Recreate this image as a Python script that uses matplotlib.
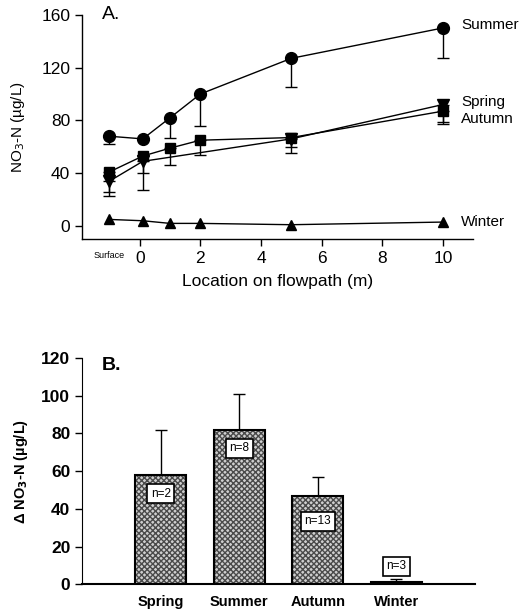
import matplotlib
matplotlib.use("Agg")
import matplotlib.pyplot as plt
import numpy as np

plt.rcParams['font.family'] = ['Liberation Sans', 'DejaVu Sans']

# ---- Panel A data ----
summer_x = [-1, 0.1, 1, 2, 5, 10]
summer_y = [68, 66, 82, 100, 127, 150]
summer_lo = [6, 0, 15, 24, 22, 23]

autumn_x = [-1, 0.1, 1, 2, 5, 10]
autumn_y = [41, 53, 59, 65, 67, 87]
autumn_lo = [15, 13, 13, 11, 7, 8]

spring_x = [-1, 0.1, 5, 10]
spring_y = [34, 49, 66, 92]
spring_lo = [11, 22, 11, 15]

winter_x = [-1, 0.1, 1, 2, 5, 10]
winter_y = [5, 4, 2, 2, 1, 3]

xticks_a = [0, 2, 4, 6, 8, 10]
yticks_a = [0, 40, 80, 120, 160]

# ---- Panel B data ----
seasons = ['Spring', 'Summer', 'Autumn', 'Winter']
delta = [58, 82, 47, 1]
delta_err = [24, 19, 10, 2]
n_labels = ['n=2', 'n=8', 'n=13', 'n=3']
n_label_y = [48, 72, 33.5, 9.5]
yticks_b = [0, 20, 40, 60, 80, 100, 120]

fig = plt.figure(figsize=(5.2, 6.15), dpi=100)

# ---------------- Panel A ----------------
axA = fig.add_axes([0.158, 0.611, 0.752, 0.365])
kw = dict(color='black', lw=1.0, capsize=4, elinewidth=1.0, capthick=1.0)
axA.errorbar(spring_x, spring_y, yerr=[spring_lo, [0]*len(spring_lo)],
             marker='v', ms=8, **kw)
axA.errorbar(autumn_x, autumn_y, yerr=[autumn_lo, [0]*len(autumn_lo)],
             marker='s', ms=7, **kw)
axA.errorbar(summer_x, summer_y, yerr=[summer_lo, [0]*len(summer_lo)],
             marker='o', ms=8.5, **kw)
axA.plot(winter_x, winter_y, color='black', lw=1.0, marker='^', ms=7.5)

axA.set_xlim(-1.9, 11.0)
axA.set_ylim(-10, 160)
axA.set_xticks(xticks_a)
axA.set_yticks(yticks_a)
axA.spines['top'].set_visible(False)
axA.spines['right'].set_visible(False)
axA.spines['left'].set_bounds(-10, 160)
axA.tick_params(direction='out', length=5, labelsize=12.5, width=1)
axA.set_xlabel('Location on flowpath (m)', fontsize=12.5, labelpad=6)
axA.set_ylabel('NO$_3$-N (µg/L)', fontsize=11, labelpad=10)
axA.text(-1, -22, 'Surface', fontsize=6.5, ha='center', va='center')
axA.text(-1.25, 160, 'A.', fontsize=14, ha='left', va='center')
lx = 10.6
axA.text(lx, 152, 'Summer', fontsize=11, ha='left', va='center')
axA.text(lx, 94, 'Spring', fontsize=11, ha='left', va='center')
axA.text(lx, 81, 'Autumn', fontsize=11, ha='left', va='center')
axA.text(lx, 3, 'Winter', fontsize=11, ha='left', va='center')
for sp in axA.spines.values():
    sp.set_linewidth(1.0)

# ---------------- Panel B ----------------
axB = fig.add_axes([0.158, 0.050, 0.755, 0.368])
pos = np.arange(1, len(seasons) + 1)
axB.bar(pos, delta, width=0.65, color='#cfcfcf', edgecolor='#4a4a4a',
        hatch='xxxxxx', lw=0, zorder=2)
axB.bar(pos, delta, width=0.65, fill=False, edgecolor='black', lw=1.5, zorder=3)
axB.errorbar(pos, delta, yerr=[[0]*len(delta), delta_err], fmt='none',
             ecolor='black', elinewidth=1.0, capsize=4, capthick=1.0, zorder=1)
for p, lab, yy in zip(pos, n_labels, n_label_y):
    axB.text(p, yy, lab, fontsize=8.5, ha='center', va='center', zorder=5,
             bbox=dict(boxstyle='square,pad=0.3', fc='white', ec='black', lw=1.2))

axB.set_xlim(0, 5)
axB.set_ylim(0, 120)
axB.set_xticks(pos)
axB.set_xticklabels(seasons, fontsize=10.5, fontweight='bold')
axB.set_yticks(yticks_b)
axB.tick_params(axis='y', direction='out', length=5, labelsize=12.5, width=1)
for t in axB.get_yticklabels():
    t.set_fontweight('bold')
axB.tick_params(axis='x', length=0, pad=8)
axB.spines['top'].set_visible(False)
axB.spines['right'].set_visible(False)
axB.spines['bottom'].set_linewidth(1.5)
axB.set_ylabel('Δ NO$_\\mathbf{3}$-N (µg/L)', fontsize=10.5, fontweight='bold', labelpad=8)
axB.text(0.25, 116, 'B.', fontsize=14, fontweight='bold', ha='left', va='center')

fig.savefig('out.png', dpi=100)
